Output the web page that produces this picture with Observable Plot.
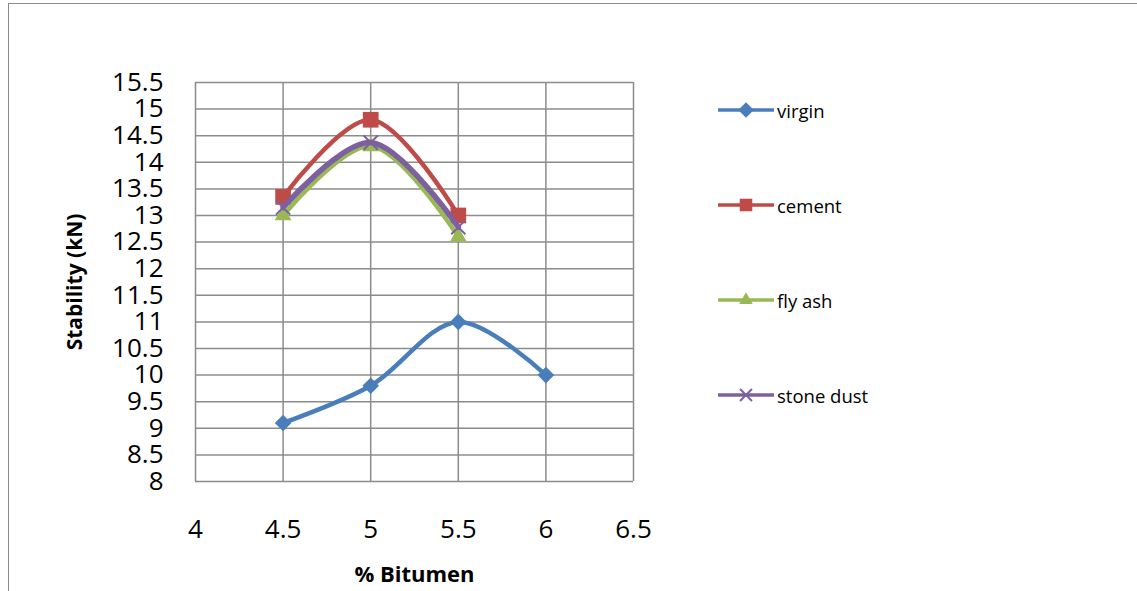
<!DOCTYPE html>
<html>
<head>
<meta charset="utf-8">
<script src="https://cdn.jsdelivr.net/npm/d3@7"></script>
<script src="https://cdn.jsdelivr.net/npm/@observablehq/plot@0.6"></script>
<style>
  html, body { margin: 0; padding: 0; background: #fff; }
  #wrap { position: relative; width: 1137px; height: 591px; overflow: hidden; font-family: "Open Sans", Lato, sans-serif; }
  #frame { position: absolute; left: 8px; top: 3px; right: -10px; bottom: -10px; border-top: 1.5px solid #8c8c8c; border-left: 1.5px solid #8c8c8c; pointer-events: none; }
  #legend { position: absolute; left: 716px; top: 96px; }
  .item { position: absolute; left: 0; display: flex; align-items: center; white-space: nowrap; font-size: 18.5px; color: #000; }
  .item svg { display: block; }
</style>
</head>
<body>
<div id="wrap">
  <div id="chart"></div>
  <div id="frame"></div>
  <div id="legend"></div>
</div>
<script>
// ---- data ----
const seriesNames = ["virgin", "cement", "fly ash", "stone dust"];
const seriesColors = ["#4a7ebb", "#be4b48", "#98b954", "#7d60a0"];
const bitumenVirgin = [4.5, 5, 5.5, 6];
const stabilityVirgin = [9.1, 9.8, 11.0, 10.0];
const bitumenCement = [4.5, 5, 5.5];
const stabilityCement = [13.35, 14.8, 13.0];
const bitumenFlyAsh = [4.5, 5, 5.5];
const stabilityFlyAsh = [13.0, 14.3, 12.6];
const bitumenStoneDust = [4.5, 5, 5.5];
const stabilityStoneDust = [13.15, 14.37, 12.78];
const xTicks = [4, 4.5, 5, 5.5, 6, 6.5];
const yTicks = [8, 8.5, 9, 9.5, 10, 10.5, 11, 11.5, 12, 12.5, 13, 13.5, 14, 14.5, 15, 15.5];

const toRows = (xs, ys, name) => xs.map((x, i) => ({x, y: ys[i], series: name}));
const virgin = toRows(bitumenVirgin, stabilityVirgin, seriesNames[0]);
const cement = toRows(bitumenCement, stabilityCement, seriesNames[1]);
const flyAsh = toRows(bitumenFlyAsh, stabilityFlyAsh, seriesNames[2]);
const stoneDust = toRows(bitumenStoneDust, stabilityStoneDust, seriesNames[3]);

const gridColor = "#8c8c8c";
const curve = "catmull-rom";

const chart = Plot.plot({
  width: 1137,
  height: 591,
  marginLeft: 195,
  marginRight: 504,
  marginTop: 82,
  marginBottom: 110,
  style: {fontFamily: "'Open Sans', Lato, sans-serif", fontSize: "26px", color: "#000", background: "transparent"},
  x: {domain: [4, 6.5], ticks: xTicks, tickSize: 0, tickPadding: 38, label: null, tickFormat: d => String(d)},
  y: {domain: [8, 15.5], ticks: yTicks, tickSize: 0, tickPadding: 32, label: null, tickFormat: d => String(d)},
  marks: [
    Plot.gridX(xTicks, {stroke: gridColor, strokeOpacity: 1, strokeWidth: 1.5}),
    Plot.gridY(yTicks, {stroke: gridColor, strokeOpacity: 1, strokeWidth: 1.5}),
    Plot.axisX({ticks: xTicks, tickSize: 0, tickPadding: 38, fontSize: 26, tickFormat: d => String(d), label: null}),
    Plot.axisY({ticks: yTicks, tickSize: 0, tickPadding: 32, fontSize: 26, tickFormat: d => String(d), label: null}),
    Plot.text(["% Bitumen"], {frameAnchor: "bottom", dy: 100, fontWeight: "bold", fontSize: 22}),
    Plot.text(["Stability (kN)"], {frameAnchor: "left", textAnchor: "middle", dx: -120, rotate: -90, fontWeight: "bold", fontSize: 21}),
    Plot.line(virgin, {x: "x", y: "y", stroke: seriesColors[0], strokeWidth: 4.5, curve}),
    Plot.dot(virgin, {x: "x", y: "y", symbol: "diamond2", fill: seriesColors[0], r: 7.5}),
    Plot.line(cement, {x: "x", y: "y", stroke: seriesColors[1], strokeWidth: 4.5, curve}),
    Plot.dot(cement, {x: "x", y: "y", symbol: "square2", fill: seriesColors[1], r: 10}),
    Plot.line(flyAsh, {x: "x", y: "y", stroke: seriesColors[2], strokeWidth: 4.5, curve}),
    Plot.dot(flyAsh, {x: "x", y: "y", symbol: "triangle2", fill: seriesColors[2], r: 8}),
    Plot.line(stoneDust, {x: "x", y: "y", stroke: seriesColors[3], strokeWidth: 5.5, curve}),
    Plot.dot(stoneDust, {x: "x", y: "y", symbol: "times", stroke: seriesColors[3], strokeWidth: 2, r: 6.5})
  ]
});
document.getElementById("chart").appendChild(chart);

// ---- legend (HTML) ----
const legendSymbols = ["diamond2", "square2", "triangle2", "times"];
const legendSizes = [7 * 7 * Math.PI, 8 * 8 * Math.PI, 6.5 * 6.5 * Math.PI, 5.5 * 5.5 * Math.PI];
const symbolMap = {diamond2: d3.symbolDiamond2, square2: d3.symbolSquare2, triangle2: d3.symbolTriangle2, times: d3.symbolTimes};
const legend = d3.select("#legend");
seriesNames.forEach((name, i) => {
  const item = legend.append("div").attr("class", "item").style("top", (i * 95) + "px");
  const svg = item.append("svg").attr("width", 60).attr("height", 28);
  svg.append("line").attr("x1", 2).attr("x2", 58).attr("y1", 14).attr("y2", 14)
    .attr("stroke", seriesColors[i]).attr("stroke-width", 3.5);
  const path = d3.symbol(symbolMap[legendSymbols[i]], legendSizes[i])();
  const sym = svg.append("path").attr("d", path).attr("transform", "translate(30,14)");
  if (legendSymbols[i] === "times") sym.attr("fill", "none").attr("stroke", seriesColors[i]).attr("stroke-width", 2);
  else sym.attr("fill", seriesColors[i]);
  item.append("span").text(name).style("margin-left", "1px");
});
</script>
</body>
</html>
